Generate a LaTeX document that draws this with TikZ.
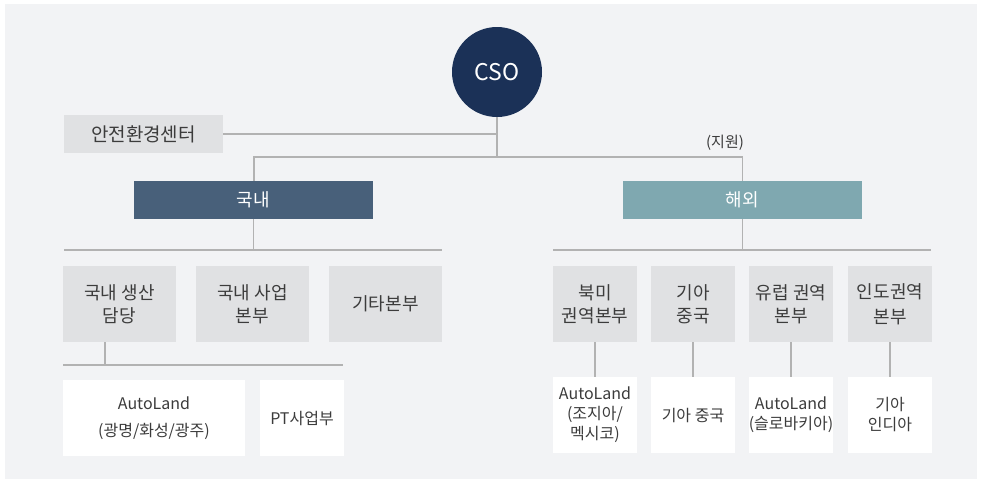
\documentclass[tikz,border=0pt]{standalone}
\usepackage{fontspec}
\setmainfont{Noto Sans CJK KR}
\usetikzlibrary{calc}
\definecolor{bgc}{HTML}{F2F3F5}
\definecolor{navy}{HTML}{1B3157}
\definecolor{domc}{HTML}{48607A}
\definecolor{ovsc}{HTML}{7FA8B0}
\definecolor{boxg}{HTML}{E0E1E3}
\definecolor{linec}{HTML}{B2B2B2}
\definecolor{txt}{HTML}{3C3C3C}
\tikzset{
  conn/.style={draw=linec, line width=1.2pt},
  graybox/.style={rectangle, fill=boxg, inner sep=0pt, align=center, text=txt, font=\fontsize{18}{23}\selectfont},
  whitebox/.style={rectangle, fill=white, inner sep=0pt, align=center, text=txt, font=\fontsize{16}{20}\selectfont},
  divbox/.style={rectangle, inner sep=0pt, minimum width=239pt, minimum height=38pt, text=white, font=\fontsize{18}{20}\selectfont},
  r2/.style={graybox, minimum height=76pt},
  r3/.style={whitebox, minimum height=76pt},
}
\begin{document}
\begin{tikzpicture}[x=1pt,y=-1pt]
\useasboundingbox (0,0) rectangle (982,483);
\fill[white] (0,0) rectangle (982,483);
\fill[bgc] (5,4) rectangle (977,479);

% nodes
\node[circle, fill=navy, minimum size=90pt, inner sep=0pt, text=white, font=\fontsize{23}{24}\selectfont] (cso) at (497,72) {CSO};
\node[graybox, minimum width=159pt, minimum height=38pt, font=\fontsize{19}{20}\selectfont] (safety) at (143.5,134) {안전환경센터};
\node[divbox, fill=domc] (dom) at (253.5,200) {국내};
\node[divbox, fill=ovsc] (ovs) at (742.5,200) {해외};
\node[text=txt, font=\fontsize{15}{16}\selectfont] (support) at (725,143) {(지원)};

\node[r2, minimum width=113pt] (prod) at (119.5,304) {국내 생산\\담당};
\node[r2, minimum width=113pt] (biz) at (252.5,304) {국내 사업\\본부};
\node[r2, minimum width=113pt] (etc) at (385.5,304) {기타본부};

\node[r3, minimum width=182pt, font=\fontsize{16}{27}\selectfont] (al1) at (154,418) {AutoLand\\(광명/화성/광주)};
\node[r3, minimum width=84pt] (pt) at (302,418) {PT사업부};

\node[r2, minimum width=84pt] (na) at (595,304) {북미\\권역본부};
\node[r2, minimum width=84pt] (cn) at (693,304) {기아\\중국};
\node[r2, minimum width=84pt] (eu) at (791,304) {유럽 권역\\본부};
\node[r2, minimum width=84pt, font=\fontsize{18}{25}\selectfont] (in) at (890,304) {인도권역\\본부};

\node[r3, minimum width=84pt] (al2) at (595,415) {AutoLand\\(조지아/\\멕시코)};
\node[r3, minimum width=84pt] (kcn) at (693,415) {기아 중국};
\node[r3, minimum width=84pt] (al3) at (791,415) {AutoLand\\(슬로바키아)};
\node[r3, minimum width=84pt] (kin) at (890,415) {기아\\인디아};

% junctions
\coordinate (j1) at (497,134);
\coordinate (j2) at (497,157);
\coordinate (lbl) at (64,250);
\coordinate (lbr) at (442,250);
\coordinate (rbl) at (553,250);
\coordinate (rbr) at (931,250);
\coordinate (pb) at (105,365);
\coordinate (pbl) at (63,365);
\coordinate (pbr) at (343,365);

% connectors
\draw[conn] (cso.south) -- (j2);
\draw[conn] (safety.east) -- (j1);
\draw[conn] (dom.north -| 254,0) |- (j2) -| (ovs.north);
\draw[conn] (dom.south) -- (dom.south |- lbl);
\draw[conn] (ovs.south) -- (ovs.south |- rbl);
\draw[conn] (lbl) -- (lbr);
\draw[conn] (rbl) -- (rbr);
\draw[conn] (prod.south -| pb) -- (pb);
\draw[conn] (pbl) -- (pbr);
\draw[conn] (na.south) -- (al2.north);
\draw[conn] (cn.south) -- (kcn.north);
\draw[conn] (eu.south) -- (al3.north);
\draw[conn] (in.south) -- (kin.north);
\end{tikzpicture}
\end{document}
